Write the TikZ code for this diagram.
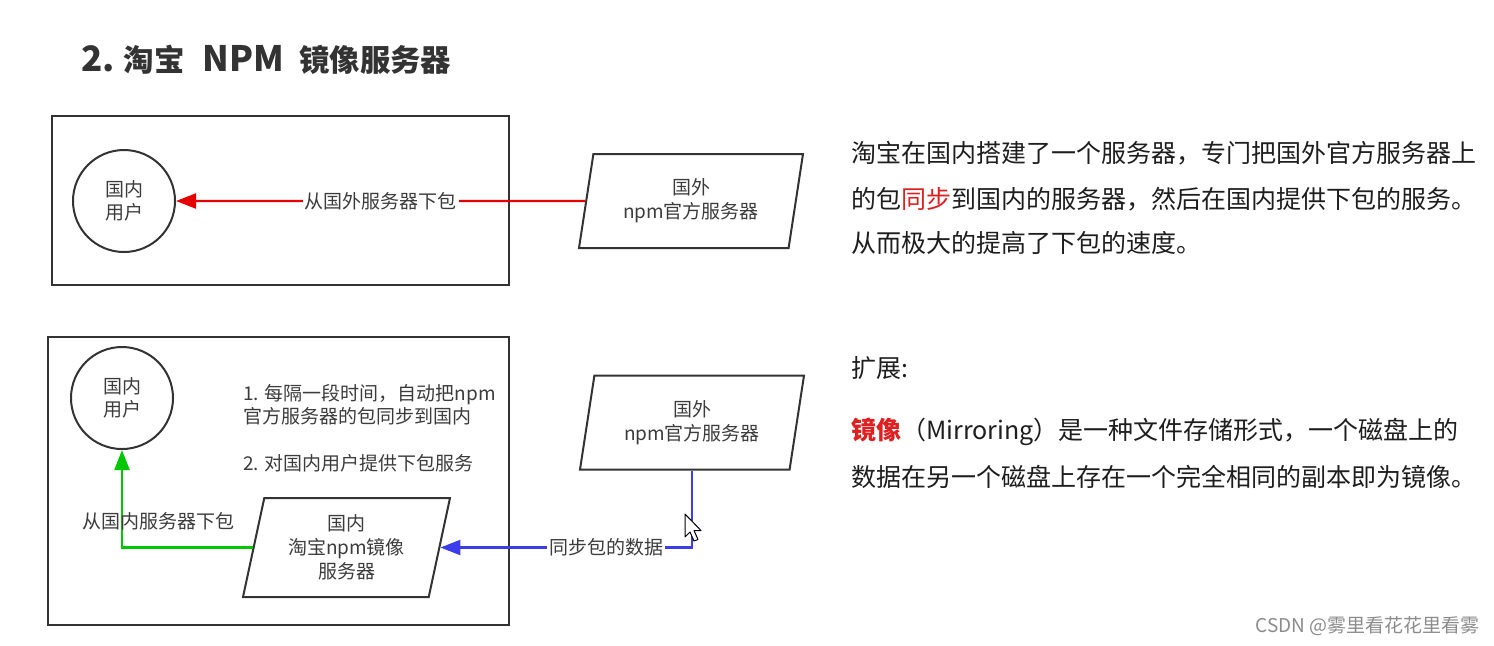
\documentclass[tikz,border=0pt]{standalone}
\usepackage{fontspec}
\setmainfont{Noto Sans CJK SC}
\usetikzlibrary{shapes.geometric,arrows.meta}
\definecolor{boxgray}{HTML}{333333}
\definecolor{dtext}{HTML}{3C3C3C}
\definecolor{rtext}{HTML}{1E1E1E}
\definecolor{redline}{HTML}{E60000}
\definecolor{greenline}{HTML}{00C800}
\definecolor{blueline}{HTML}{3C3CEB}
\definecolor{mred}{HTML}{E02020}
\definecolor{wmark}{HTML}{8C8C8C}
\newcommand{\titlelatin}[1]{{\fontsize{17.5}{20}\selectfont #1}}
\begin{document}
\begin{tikzpicture}[x=0.5pt,y=-0.5pt,
  frame/.style={draw=boxgray,line width=1pt},
  user/.style={circle,draw=boxgray,line width=1pt,minimum size=51pt,inner sep=0pt,align=center,
    font=\fontsize{9.5}{11.5}\selectfont,text=dtext},
  server/.style={trapezium,trapezium left angle=72,trapezium right angle=108,
    trapezium stretches body=true,draw=boxgray,line width=1pt,align=center,
    font=\fontsize{9.5}{12}\selectfont,text=dtext,inner sep=0pt,minimum height=47pt,minimum width=112pt},
  lbl/.style={font=\fontsize{9.5}{11.5}\selectfont,text=dtext,inner sep=1pt},
  note/.style={font=\fontsize{9.5}{11.5}\selectfont,text=dtext,inner sep=0pt,align=left,anchor=west},
  rt/.style={font=\fontsize{12.5}{22.5}\selectfont,text=rtext,inner sep=0pt,anchor=west},
  conn/.style={line width=1.1pt,-{Triangle[length=10pt,width=7.5pt]}}
]
\useasboundingbox[fill=white] (0,0) rectangle (1494,645);

% title
\node[anchor=west,inner sep=0pt,text=boxgray,font=\fontsize{15.2}{18}\selectfont\bfseries] (title) at (81,60)
  {\titlelatin{2.}\hspace{4.5pt}淘宝\hspace{9pt}\titlelatin{NPM}\hspace{7.5pt}镜像服务器};

% top diagram
\draw[frame] (52,116) rectangle (509,285);
\node[user] (c1) at (124,201) {国内\\用户};
\node[server] (p1) at (691,201) {国外\\npm官方服务器};
\draw[conn,redline] (p1) -- node[lbl,fill=white] (l1) {从国外服务器下包} (c1);

% bottom diagram
\draw[frame] (48,337) rectangle (509,625);
\node[user] (c2) at (122,398) {国内\\用户};
\node[note] (n1) at (243,404.5) {1. 每隔一段时间，自动把npm\\官方服务器的包同步到国内};
\node[note] (n2) at (243,463) {2. 对国内用户提供下包服务};
\node[server,minimum height=49.5pt,minimum width=103.5pt] (p2) at (346.5,547.5) {国内\\淘宝npm镜像\\服务器};
\node[server] (p3) at (692,422.5) {国外\\npm官方服务器};
\draw[conn,greenline] (p2) -| (c2);
\node[lbl] (l2) at (158,521) {从国内服务器下包};
\draw[conn,blueline] (p3) |- node[pos=0.67,lbl,fill=white] (l3) {同步包的数据} (p2);

% mouse cursor
\draw[black,line width=0.5pt,fill=white,line join=round]
  (685,514) -- (685,537) -- (690,532) -- (694,541) -- (698,539.5) -- (694,530.5) -- (701,530.5) -- cycle;

% right text
\node[rt] (r1) at (851,153) {淘宝在国内搭建了一个服务器，专门把国外官方服务器上};
\node[rt] (r2) at (851,199) {的包\textcolor{mred}{同步}到国内的服务器，然后在国内提供下包的服务。};
\node[rt] (r3) at (851,243) {从而极大的提高了下包的速度。};
\node[rt] (r4) at (851,368) {扩展:};
\node[rt] (r5) at (851,432) {\textbf{\textcolor{mred}{镜像}}（Mirroring）是一种文件存储形式，一个磁盘上的};
\node[rt] (r6) at (851,477) {数据在另一个磁盘上存在一个完全相同的副本即为镜像。};

% watermark
\node[anchor=east,inner sep=0pt,text=wmark,font=\fontsize{9.5}{11.5}\selectfont] (wm) at (1480,626) {CSDN @雾里看花花里看雾};
\end{tikzpicture}
\end{document}
